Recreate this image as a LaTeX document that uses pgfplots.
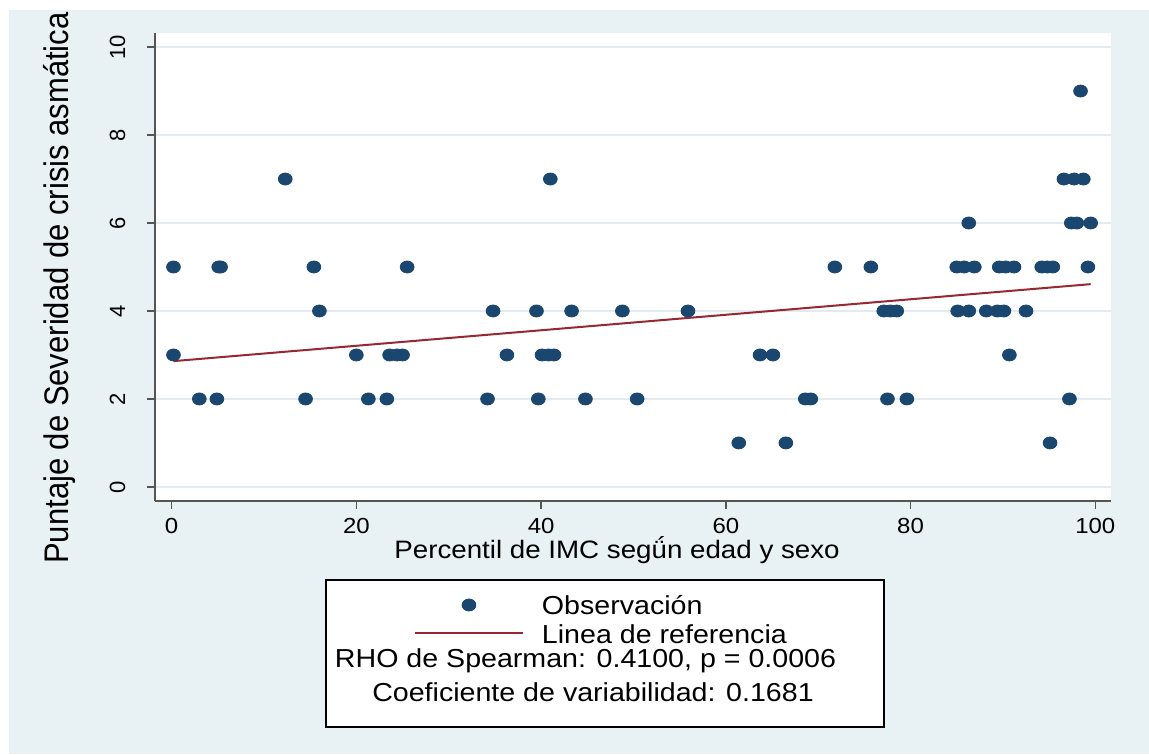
\documentclass[border=0pt]{standalone}
\usepackage{pgfplots}
\pgfplotsset{compat=1.18}
\usepackage{fontspec}
\usepackage{graphicx}
\setmainfont{Liberation Sans}
\newfontfamily\wide[FakeStretch=1.1]{Liberation Sans}
\definecolor{bgc}{RGB}{232,241,243}
\definecolor{gridc}{RGB}{226,236,240}
\definecolor{navy}{RGB}{26,71,111}
\definecolor{maroonc}{RGB}{150,40,50}
\definecolor{axc}{RGB}{85,85,85}
\begin{document}
\begin{tikzpicture}
\path[use as bounding box] (0,0) rectangle (574.5pt,377pt);
\fill[white] (0,0) rectangle (574.5pt,377pt);
\fill[bgc] (4.5pt,0) rectangle (574.5pt,372pt);
\draw[black, line width=0.6pt, fill=white] (163pt,13.5pt) rectangle (442pt,87pt);
\begin{axis}[
  at={(77.5pt,126.5pt)}, anchor=south west,
  scale only axis, width=478pt, height=234pt,
  xmin=-1.8, xmax=101.7, ymin=-0.32, ymax=10.32,
  axis x line*=bottom, axis y line*=left,
  axis line style={-, axc, line width=0.75pt},
  axis background/.style={fill=white},
  xtick={0,20,...,100}, ytick={0,2,...,10},
  tick align=outside, major tick length=4pt,
  tick style={axc, line width=0.75pt},
  ymajorgrids, grid style={gridc, line width=1pt},
  /pgf/number format/assume math mode=true,
  xticklabel style={font=\wide\fontsize{10.9}{12}\selectfont, anchor=north, inner sep=0pt, yshift=-4.5pt},
  yticklabel style={xshift=-11pt, rotate=90, anchor=base, inner sep=0pt, font=\fontsize{11}{12}\selectfont},
  xlabel={Percentil de IMC segǘn edad y sexo},
  ylabel={\scalebox{1}[1.1]{Puntaje de Severidad de crisis asmática}},
  xlabel style={at={(axis description cs:0.4833,-0.1218)}, anchor=base, inner sep=0pt, text height=9.5pt, font=\wide\fontsize{12.6}{15}\selectfont},
  ylabel style={at={(axis description cs:-0.0910,0.4551)}, anchor=base, inner sep=0pt, font=\fontsize{15.5}{18}\selectfont},
  legend style={at={(0.2709,-0.1923)}, anchor=north west, draw=none, fill=none, inner sep=0pt, outer sep=0pt, row sep=0pt, column sep=9pt, font=\wide\fontsize{13}{15}\selectfont, nodes={inner sep=0pt, text height=12pt, text depth=2pt}},
  legend cell align=left,
  legend image code/.code={\draw[mark repeat=2,mark phase=2,#1] plot coordinates {(0pt,0pt) (27pt,0pt) (54pt,0pt)};},
]
\addplot[only marks, mark=*, mark size=3pt, mark options={xscale=1.15, fill=navy, draw=navy}] coordinates {
(61.4,1) (66.5,1) (95.1,1)
(3.0,2) (4.9,2) (14.5,2) (21.3,2) (23.3,2) (34.2,2) (39.7,2) (44.8,2) (50.4,2) (68.6,2) (69.2,2) (77.5,2) (79.6,2) (97.2,2)
(0.2,3) (20.0,3) (23.6,3) (24.4,3) (25.0,3) (36.3,3) (40.1,3) (40.8,3) (41.4,3) (63.7,3) (65.1,3) (90.7,3)
(16.0,4) (34.8,4) (39.5,4) (43.3,4) (48.8,4) (55.9,4) (77.1,4) (77.8,4) (78.5,4) (85.1,4) (86.3,4) (88.2,4) (89.4,4) (90.1,4) (92.5,4)
(0.2,5) (5.1,5) (5.3,5) (15.4,5) (25.5,5) (71.8,5) (75.7,5) (85.0,5) (85.8,5) (86.9,5) (89.6,5) (90.3,5) (91.2,5) (94.2,5) (94.8,5) (95.4,5) (99.2,5)
(86.3,6) (97.4,6) (98.0,6) (99.5,6)
(12.3,7) (41.0,7) (96.6,7) (97.7,7) (98.7,7)
(98.4,9)
};
\addlegendentry{Observación}
\addplot[maroonc, line width=1pt, mark=none] coordinates {(0.2,2.86) (99.5,4.61)};
\addlegendentry{Linea de referencia}
\end{axis}
\node[anchor=base, inner sep=0pt, font=\wide\fontsize{13}{15}\selectfont] at (292.75pt,43.5pt) {RHO de Spearman: 0.4100, p = 0.0006};
\node[anchor=base, inner sep=0pt, font=\wide\fontsize{13}{15}\selectfont] at (296.5pt,26.5pt) {Coeficiente de variabilidad: 0.1681};
\end{tikzpicture}
\end{document}
